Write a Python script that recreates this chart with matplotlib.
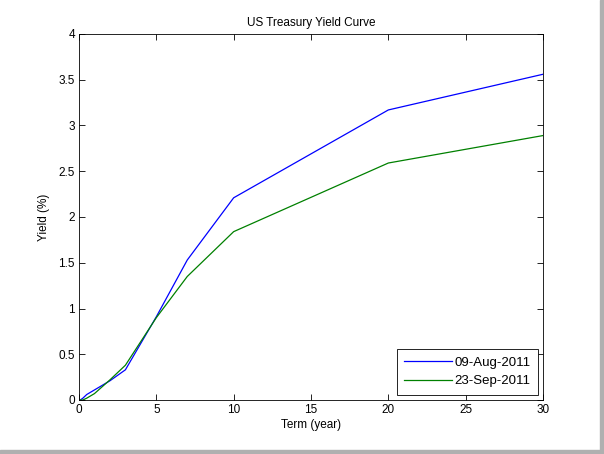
import numpy as np
import matplotlib as mpl
mpl.use('Agg')
import matplotlib.pyplot as plt
from matplotlib.patches import Rectangle

# treasury terms in years
term = [1/12, 0.25, 0.5, 1, 2, 3, 5, 7, 10, 20, 30]
yield_aug = [0.00, 0.02, 0.06, 0.11, 0.21, 0.33, 0.91, 1.53, 2.21, 3.17, 3.56]
yield_sep = [0.00, 0.00, 0.02, 0.07, 0.22, 0.38, 0.90, 1.35, 1.84, 2.59, 2.89]
labels = ['09-Aug-2011', '23-Sep-2011']

plt.rcParams['font.family'] = ['Arial', 'Liberation Sans', 'DejaVu Sans']
plt.rcParams['font.size'] = 8.5

fig = plt.figure(figsize=(6.04, 4.54), dpi=100)
ax = fig.add_axes([79/604, 1 - 400/454, (543 - 79)/604, (400 - 34)/454])

ax.plot(term, yield_aug, color='#0000ff', lw=0.9, label=labels[0])
ax.plot(term, yield_sep, color='#008000', lw=0.9, label=labels[1])

ax.set_xlim(0, 30)
ax.set_ylim(0, 4)
ax.set_xticks(np.arange(0, 31, 5))
ax.set_yticks(np.arange(0, 4.01, 0.5))
ax.set_yticklabels(['0', '0.5', '1', '1.5', '2', '2.5', '3', '3.5', '4'])
ax.tick_params(direction='in', top=True, right=True, length=4, width=0.6, pad=3)
for s in ax.spines.values():
    s.set_linewidth(0.6)

ax.set_title('US Treasury Yield Curve', fontsize=8.5, pad=6)
ax.set_xlabel('Term (year)', labelpad=2)
ax.set_ylabel('Yield (%)', labelpad=6)

leg = ax.legend(loc='lower right', fancybox=False, edgecolor='black',
                framealpha=1, handlelength=3.6, handletextpad=0.2,
                borderaxespad=0.4, labelspacing=0.5, borderpad=0.55,
                fontsize=9.5)
leg.get_frame().set_linewidth(0.6)

# screenshot shadow on right and bottom edges
fig.patches.append(Rectangle((0, 0), 1, 4/454, transform=fig.transFigure,
                             color='#b0b0b0', zorder=10))
fig.patches.append(Rectangle((1 - 4/604, 0), 4/604, 1, transform=fig.transFigure,
                             color='#b0b0b0', zorder=10))

fig.savefig('out.png', dpi=100)
